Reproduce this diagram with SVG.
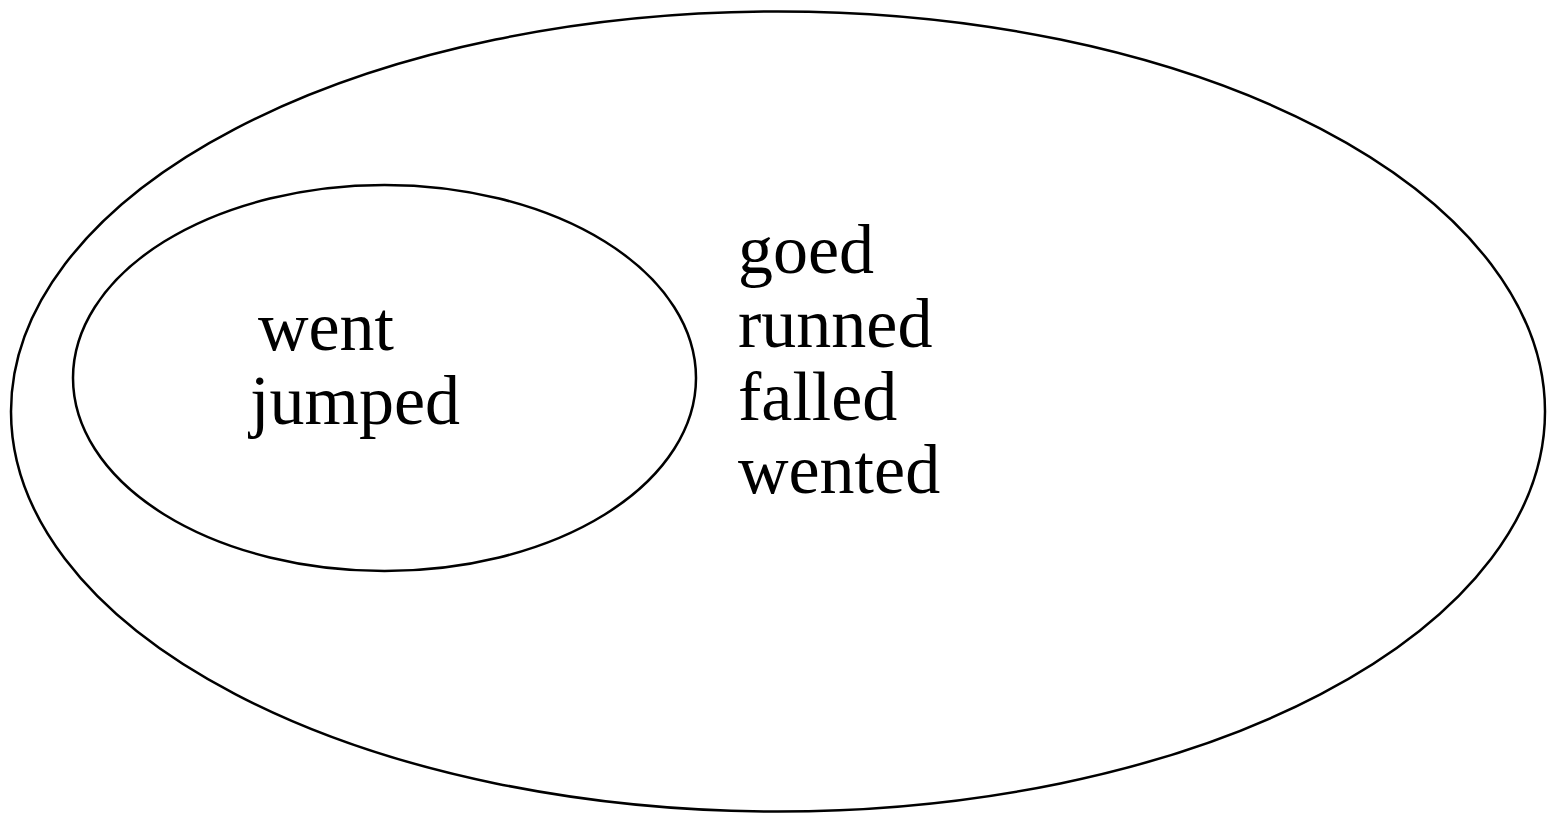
<svg xmlns="http://www.w3.org/2000/svg" width="1550" height="817" viewBox="0 0 1550 817">
<style>
.sh{fill:none;stroke:#000;stroke-width:2.5}
.t{font-family:"Liberation Serif","Times New Roman",serif;font-size:70px;fill:#000}
</style>
<rect width="1550" height="817" fill="#fff"/>
<g id="outer">
<ellipse class="sh" cx="778" cy="411.5" rx="767" ry="400"/>
<text class="t" x="738" y="273">goed</text>
<text class="t" x="738" y="347">runned</text>
<text class="t" x="738" y="420">falled</text>
<text class="t" x="738" y="493">wented</text>
</g>
<g id="inner">
<ellipse class="sh" cx="384.5" cy="378" rx="311.5" ry="193"/>
<text class="t" x="258" y="350">went</text>
<text class="t" x="250" y="424">jumped</text>
</g>
<g id="connectors"/>
</svg>
